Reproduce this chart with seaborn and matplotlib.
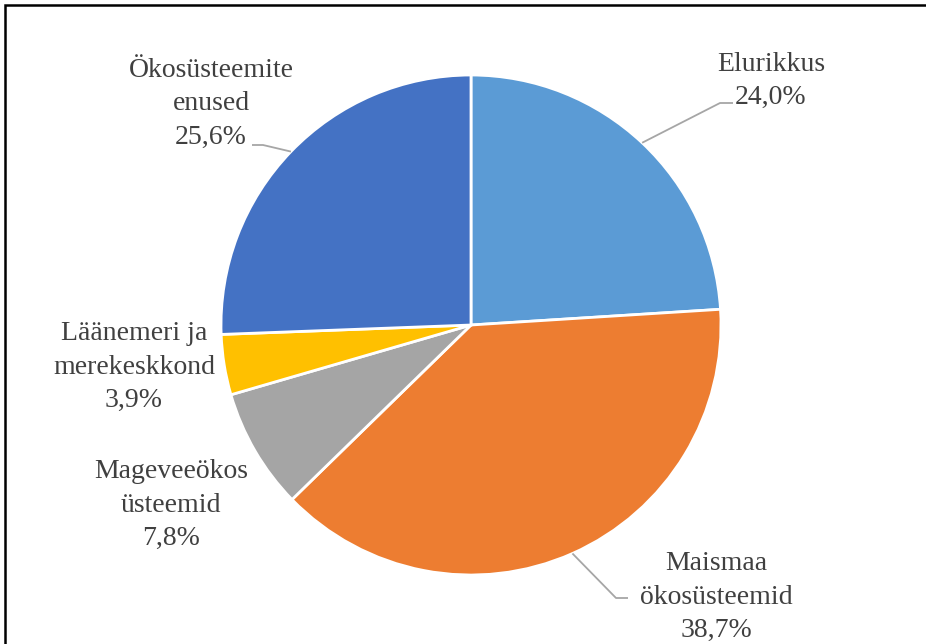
import matplotlib
matplotlib.use("Agg")
import matplotlib.pyplot as plt
import numpy as np
import seaborn as sns
from matplotlib.patches import Rectangle

# data
categories = [
    "Elurikkus",
    "Maismaa\nökosüsteemid",
    "Mageveeökos\nüsteemid",
    "Läänemeri ja\nmerekeskkond",
    "Ökosüsteemite\nenused",
]
shares = [24.0, 38.7, 7.8, 3.9, 25.6]
colors = ["#5B9BD5", "#ED7D31", "#A5A5A5", "#FFC000", "#4472C4"]

# label placement in pixels (x, y from top) and optional leader elbow/end
label_px = [(771, 81), (716, 597), (171, 505), (134, 367), (211, 104)]
leader_px = [
    [(720, 103), (733, 103)],
    [(616, 598), (628, 598)],
    None,
    None,
    [(263, 145), (252, 145)],
]

W, H = 926, 644
CX, CY, R = 471, 325, 250

sns.set_theme(style="white")
plt.rcParams["font.family"] = ["Liberation Serif", "DejaVu Serif"]


def px(x, y):
    return (x - CX) / R, (CY - y) / R


fig = plt.figure(figsize=(W / 100, H / 100), dpi=100)
ax = fig.add_axes([0, 0, 1, 1])

wedges, _ = ax.pie(
    shares,
    colors=colors,
    startangle=90,
    counterclock=False,
    radius=1,
    wedgeprops=dict(edgecolor="white", linewidth=2),
)
# pie() resets the limits, so fix them afterwards
ax.set_xlim(-CX / R, (W - CX) / R)
ax.set_ylim(-(H - CY) / R, CY / R)
ax.set_aspect("equal")
ax.axis("off")

for w, name, val, pos, lead in zip(wedges, categories, shares, label_px, leader_px):
    text = f"{name}\n{val:.1f}%".replace(".", ",")
    tx, ty = px(*pos)
    ax.text(tx, ty, text, ha="center", va="center", fontsize=20,
            color="#404040", linespacing=1.43)
    if lead is not None:
        ang = np.deg2rad((w.theta1 + w.theta2) / 2)
        xs = [np.cos(ang)] + [px(*p)[0] for p in lead]
        ys = [np.sin(ang)] + [px(*p)[1] for p in lead]
        ax.plot(xs, ys, color="#A6A6A6", lw=1.3, solid_capstyle="butt")

# outer frame, cut off on the right and bottom like the source
fig.patches.append(Rectangle((5 / W, -0.2), 1.2, 1.2 - 5 / H,
                             transform=fig.transFigure, fill=False,
                             edgecolor="black", lw=1.8))

fig.savefig("out.png", dpi=100, facecolor="white")
